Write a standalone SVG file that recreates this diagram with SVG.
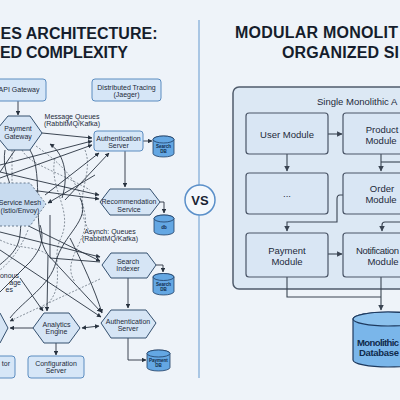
<svg xmlns="http://www.w3.org/2000/svg" width="400" height="400" viewBox="0 0 400 400">
<defs>
<style>
.title{font-family:"Liberation Sans",Arial,sans-serif;font-weight:700;font-size:16px;fill:#151d2c}
.t7{font-family:"Liberation Sans",Arial,sans-serif;font-size:7px;fill:#1d2a3a;text-anchor:middle}
.t7s{font-family:"Liberation Sans",Arial,sans-serif;font-size:7px;fill:#1d2a3a;text-anchor:end}
.t9{font-family:"Liberation Sans",Arial,sans-serif;font-size:9.5px;fill:#1d2a3a;text-anchor:middle}
.t9s{font-family:"Liberation Sans",Arial,sans-serif;font-size:9.5px;fill:#1d2a3a}
.dbt{font-family:"Liberation Sans",Arial,sans-serif;font-size:4.5px;font-weight:700;fill:#0f2a4a;text-anchor:middle}
.dbtb{font-family:"Liberation Sans",Arial,sans-serif;font-size:9.5px;font-weight:700;fill:#0f2a4a}
.box{fill:#d6e6f7;stroke:#5b8cc0;stroke-width:1}
.hex{fill:#d6e5f5;stroke:#34506f;stroke-width:1}
.mesh{fill:#c8dbef;stroke:#6b7d90;stroke-width:1;stroke-dasharray:2 2}
.db{fill:#64a7e3;stroke:#1f3d63;stroke-width:0.8}
.mbox{fill:#d9e6f4;stroke:#4a5567;stroke-width:1.2}
.ln{fill:none;stroke:#28323f;stroke-width:0.9}
.dl{fill:none;stroke:#6c7784;stroke-width:0.8;stroke-dasharray:2 1.6}
.ml{fill:none;stroke:#3a4452;stroke-width:1.1}
</style>
<marker id="ah" viewBox="0 0 10 10" refX="9" refY="5" markerWidth="5" markerHeight="5" orient="auto-start-reverse"><path d="M0,0 L10,5 L0,10 z" fill="#28323f"/></marker>
<marker id="ahm" viewBox="0 0 10 10" refX="9" refY="5" markerWidth="5" markerHeight="5" orient="auto"><path d="M0,0 L10,5 L0,10 z" fill="#3a4452"/></marker>
</defs>
<rect x="0" y="0" width="400" height="400" fill="#eef3f9"/>

<text class="title" x="0.5" y="39" textLength="157">ES ARCHITECTURE:</text>
<text class="title" x="0" y="58" textLength="128">ED COMPLEXITY</text>
<text class="title" x="235" y="38" textLength="163">MODULAR MONOLIT</text>
<text class="title" x="282" y="58" textLength="117">ORGANIZED SI</text>

<line x1="199" y1="20" x2="199" y2="378" stroke="#a9c6e4" stroke-width="2"/>

<!-- left connectors -->
<g id="left-connectors">
<path class="dl" d="M12,150 L12,205"/>
<path class="dl" d="M22,150 C30,165 55,170 90,190"/>
<path class="dl" d="M36,146 C70,170 80,185 85,215 C90,240 60,260 75,282"/>
<path class="dl" d="M55,158 C48,190 75,210 60,240 C50,262 70,290 40,310"/>
<path class="dl" d="M0,240 C20,250 35,245 48,255"/>
<path class="dl" d="M85,150 C95,175 70,200 90,232"/>
<path class="dl" d="M28,230 C20,250 10,262 0,270"/>
<path class="dl" d="M100,279 L10,321" marker-end="url(#ah)"/>
<path class="ln" d="M18,101 L18,115" marker-end="url(#ah)"/>
<path class="ln" d="M42,133 L92,138" marker-end="url(#ah)"/>
<path class="ln" d="M0,165 L92,141" marker-end="url(#ah)"/>
<path class="ln" d="M0,178 L92,145" marker-end="url(#ah)"/>
<path class="ln" d="M45,195 L99,153" marker-end="url(#ah)"/>
<path class="ln" d="M65,200 L109,153" marker-end="url(#ah)"/>
<path class="ln" d="M0,172 L99,195" marker-end="url(#ah)"/>
<path class="ln" d="M0,186 L99,199" marker-end="url(#ah)"/>
<path class="ln" d="M95,175 L48,203" marker-end="url(#ah)"/>
<path class="ln" d="M0,232 L100,257" marker-end="url(#ah)"/>
<path class="ln" d="M0,212 L100,261" marker-end="url(#ah)"/>
<path class="ln" d="M50,215 V258 L100,262"/>
<path class="ln" d="M15,150 L0,172"/>
<path class="ln" d="M30,150 C45,175 30,230 48,255"/>
<path class="ln" d="M48,255 L101,312" marker-end="url(#ah)"/>
<path class="ln" d="M48,255 L47,311" marker-end="url(#ah)"/>
<path class="ln" d="M0,250 L101,317" marker-end="url(#ah)"/>
<path class="ln" d="M20,278 L43,311" marker-end="url(#ah)"/>
<path class="ln" d="M70,238 C82,262 95,290 102,313" marker-end="url(#ah)"/>
<path class="ln" d="M62,198 C70,172 62,152 50,144" marker-end="url(#ah)"/>
<path class="ln" d="M80,198 C92,220 62,235 56,262 C50,286 24,300 10,318"/>
<path class="ln" d="M0,292 L30,262 C40,250 45,240 40,225"/>
<path class="ln" d="M5,150 C0,180 25,200 20,235 C18,255 0,262 -5,270"/>
<path class="ln" d="M125,151 L125,187" marker-end="url(#ah)"/>
<path class="ln" d="M143,141 L152,141" marker-end="url(#ah)"/>
<path class="ln" d="M160,202 H164 V213" marker-end="url(#ah)"/>
<path class="ln" d="M156,265 H163 V272" marker-end="url(#ah)"/>
<path class="ln" d="M128,278 L128,308" marker-end="url(#ah)"/>
<path class="ln" d="M128,338 V360 H146" marker-end="url(#ah)"/>
<path class="ln" d="M82,328 L99,326" marker-start="url(#ah)" marker-end="url(#ah)"/>
<path class="ln" d="M33,328 L10,328" marker-end="url(#ah)"/>
<path class="ln" d="M56,343 V355" marker-end="url(#ah)"/>
</g>

<!-- left nodes -->
<g id="api-gateway"><rect class="box" x="-6" y="79" width="52" height="22" rx="3"/><text class="t7" x="19" y="92">API Gateway</text></g>
<g id="distributed-tracing"><rect class="box" x="92" y="79" width="69" height="22" rx="3"/><text class="t7" x="126.5" y="89.5">Distributed Tracing</text><text class="t7" x="126.5" y="97">(Jaeger)</text></g>
<g id="payment-gateway"><polygon class="hex" points="-6,133 8,116 30,116 42,133 30,150 8,150"/><text class="t7" x="18" y="130.5">Payment</text><text class="t7" x="18" y="138.5">Gateway</text></g>
<g id="mq-label"><text class="t7" x="72" y="118.5">Message Queues</text><text class="t7" x="72" y="126">(RabbitMQ/Kafka)</text></g>
<g id="auth-server-1"><rect class="box" x="94" y="131" width="49" height="20" rx="3"/><text class="t7" x="118.5" y="140.5">Authentication</text><text class="t7" x="118.5" y="147.5">Server</text></g>
<g id="search-db-1"><path class="db" d="M153,139.5 A10.5,3.5 0 0 1 174,139.5 V153.5 A10.5,3.5 0 0 1 153,153.5 Z"/><ellipse class="db" cx="163.5" cy="139.5" rx="10.5" ry="3.5"/><text class="dbt" x="163.5" y="148">Search</text><text class="dbt" x="163.5" y="153">DB</text></g>
<g id="service-mesh"><polygon class="mesh" points="-30,204 -14,183 30,183 46,204 30,226 -14,226"/><text class="t7" x="20" y="205">Service Mesh</text><text class="t7" x="20" y="212.5">(Istio/Envoy)</text></g>
<g id="recommendation"><polygon class="hex" points="100,202 110,189 150,189 160,202 150,215 110,215"/><text class="t7" x="129" y="204">Recommendation</text><text class="t7" x="129" y="211.5">Service</text></g>
<g id="db"><path class="db" d="M154,218.5 A10,3.5 0 0 1 174,218.5 V231.5 A10,3.5 0 0 1 154,231.5 Z"/><ellipse class="db" cx="164" cy="218.5" rx="10" ry="3.5"/><text class="dbt" x="164" y="229">db</text></g>
<g id="async-label"><text class="t7" x="110" y="234">Asynch: Queues</text><text class="t7" x="110" y="241">(RabbitMQ/Kafka)</text></g>
<g id="async-left-label"><text class="t7s" x="19" y="277.5">onous</text><text class="t7s" x="21" y="285">age</text><text class="t7s" x="13" y="292">es</text></g>
<g id="search-indexer"><polygon class="hex" points="102,265 111,253 147,253 156,265 147,278 111,278"/><text class="t7" x="128" y="263.5">Search</text><text class="t7" x="128" y="271">Indexer</text></g>
<g id="search-db-2"><path class="db" d="M153,277 A10.5,3.5 0 0 1 174,277 V291.5 A10.5,3.5 0 0 1 153,291.5 Z"/><ellipse class="db" cx="163.5" cy="277" rx="10.5" ry="3.5"/><text class="dbt" x="163.5" y="285.5">Search</text><text class="dbt" x="163.5" y="290.5">DB</text></g>
<g id="auth-server-2"><polygon class="hex" points="101,323 111,310 146,310 156,323 146,338 111,338"/><text class="t7" x="128" y="323.5">Authentication</text><text class="t7" x="128" y="331">Server</text></g>
<g id="payment-db"><path class="db" d="M147,353.5 A11.5,3.5 0 0 1 170,353.5 V367.5 A11.5,3.5 0 0 1 147,367.5 Z"/><ellipse class="db" cx="158.5" cy="353.5" rx="11.5" ry="3.5"/><text class="dbt" x="158.5" y="362">Payment</text><text class="dbt" x="158.5" y="367">DB</text></g>
<g id="analytics"><polygon class="hex" points="33,328 44,313 69,313 80,328 69,343 44,343"/><text class="t7" x="56.5" y="326.5">Analytics</text><text class="t7" x="56.5" y="334">Engine</text></g>
<g id="left-hex"><polygon class="hex" points="-30,313 0,313 8,328 0,343 -30,343"/></g>
<g id="config-server"><rect class="box" x="28" y="356" width="56" height="22" rx="3"/><text class="t7" x="56" y="365.5">Configuration</text><text class="t7" x="56" y="373">Server</text></g>
<g id="tor-box"><rect class="box" x="-30" y="356" width="45" height="22" rx="3"/><text class="t7s" x="10" y="365.5">tor</text></g>

<!-- VS -->
<g id="vs"><circle cx="200" cy="200" r="15" fill="#f4f8fc" stroke="#5a8fc9" stroke-width="1.5"/><text x="200" y="205" text-anchor="middle" font-family="Liberation Sans, Arial, sans-serif" font-weight="700" font-size="13" fill="#1a2433">VS</text></g>

<!-- right side -->
<g id="monolith"><rect x="233" y="87" width="200" height="202" rx="6" fill="#dce8f4" stroke="#4f5b6b" stroke-width="1.5"/><text class="t9s" x="317" y="105">Single Monolithic A</text></g>
<g id="right-connectors">
<path class="ml" d="M328,134 H342" marker-end="url(#ahm)"/>
<path class="ml" d="M287,154 V171" marker-end="url(#ahm)"/>
<path class="ml" d="M381,154 V171" marker-end="url(#ahm)"/>
<path class="ml" d="M381,162 H410"/>
<path class="ml" d="M343,195 H340 Q337,195 337,199 V222 H287 V231" marker-end="url(#ahm)"/>
<path class="ml" d="M410,222 H385 Q382,222 382,225 V231" marker-end="url(#ahm)"/>
<path class="ml" d="M328,254 H342" marker-end="url(#ahm)"/>
<path class="ml" d="M287,277 V297 H381"/>
<path class="ml" d="M381,277 V310" marker-end="url(#ahm)"/>
</g>
<g id="user-module"><rect class="mbox" x="246" y="113" width="82" height="41" rx="3"/><text class="t9" x="287" y="137.5">User Module</text></g>
<g id="product-module"><rect class="mbox" x="343" y="113" width="80" height="41" rx="3"/><text class="t9" x="382" y="132.5">Product</text><text class="t9" x="381" y="144">Module</text></g>
<g id="ellipsis-module"><rect class="mbox" x="246" y="173" width="82" height="41" rx="3"/><text class="t9" x="287" y="197">...</text></g>
<g id="order-module"><rect class="mbox" x="343" y="173" width="80" height="41" rx="3"/><text class="t9" x="382" y="191.5">Order</text><text class="t9" x="381" y="202.5">Module</text></g>
<g id="payment-module"><rect class="mbox" x="246" y="233" width="82" height="44" rx="3"/><text class="t9" x="287" y="253.5">Payment</text><text class="t9" x="287" y="264.5">Module</text></g>
<g id="notification-module"><rect class="mbox" x="343" y="233" width="80" height="44" rx="3"/><text class="t9s" x="356" y="253.5" textLength="43">Notification</text><text class="t9" x="383" y="264.5">Module</text></g>
<g id="monolithic-db"><path d="M353,319 A35,7 0 0 1 423,319 V360 A35,7 0 0 1 353,360 Z" fill="#7ab6ea" stroke="#1e3a5f" stroke-width="1.2"/><ellipse cx="388" cy="319" rx="35" ry="7" fill="#8cc2ee" stroke="#1e3a5f" stroke-width="1.2"/><text class="dbtb" x="357" y="346" textLength="42">Monolithic</text><text class="dbtb" x="359" y="355.5" textLength="40">Database</text></g>
</svg>
